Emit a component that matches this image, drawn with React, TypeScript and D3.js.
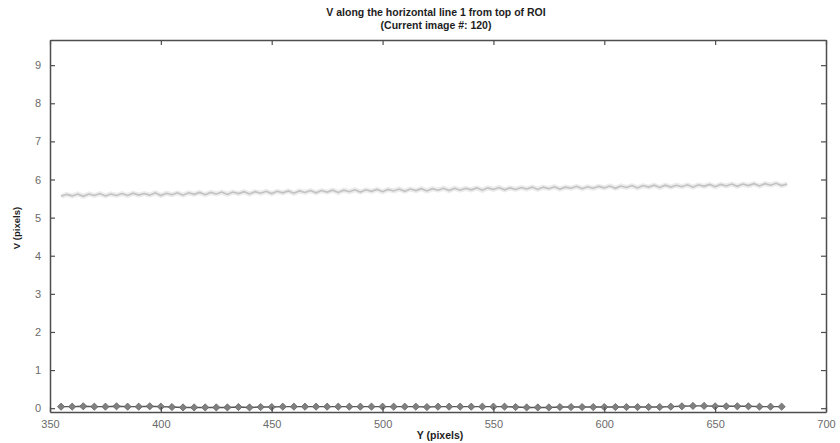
import React, { useEffect, useRef } from "react";
import * as d3 from "d3";

// V along the line (faded history trace), sampled every 2.5 px from Y=355
const vStart = 355;
const vStep = 2.5;
const vValues = [
  5.56, 5.61, 5.57, 5.62, 5.56, 5.62, 5.58, 5.63, 5.57, 5.62, 5.58, 5.63,
  5.58, 5.64, 5.59, 5.63, 5.59, 5.65, 5.58, 5.64, 5.6, 5.65, 5.59, 5.65,
  5.61, 5.66, 5.6, 5.66, 5.62, 5.67, 5.61, 5.67, 5.63, 5.68, 5.62, 5.68,
  5.64, 5.69, 5.63, 5.69, 5.65, 5.7, 5.64, 5.7, 5.66, 5.71, 5.65, 5.71,
  5.67, 5.72, 5.66, 5.72, 5.68, 5.73, 5.67, 5.73, 5.69, 5.74, 5.68, 5.74,
  5.7, 5.75, 5.69, 5.75, 5.71, 5.76, 5.7, 5.76, 5.72, 5.77, 5.71, 5.77,
  5.72, 5.77, 5.73, 5.78, 5.72, 5.78, 5.74, 5.79, 5.73, 5.78, 5.74, 5.79,
  5.75, 5.8, 5.74, 5.8, 5.76, 5.81, 5.75, 5.8, 5.77, 5.82, 5.76, 5.81,
  5.77, 5.82, 5.78, 5.83, 5.77, 5.83, 5.79, 5.84, 5.78, 5.84, 5.8, 5.85,
  5.79, 5.85, 5.8, 5.85, 5.81, 5.86, 5.8, 5.86, 5.82, 5.87, 5.81, 5.87,
  5.83, 5.88, 5.82, 5.88, 5.84, 5.89, 5.83, 5.89, 5.85, 5.9, 5.84, 5.88,
];

// current image values, one diamond every 5 px from Y=355
const dStart = 355;
const dStep = 5;
const dValues = [
  0.04, 0.04, 0.05, 0.04, 0.04, 0.05, 0.04, 0.04, 0.05, 0.04,
  0.03, 0.02, 0.02, 0.02, 0.02, 0.02, 0.03, 0.02, 0.03, 0.03,
  0.04, 0.04, 0.04, 0.04, 0.04, 0.04, 0.04, 0.04, 0.04, 0.04,
  0.04, 0.04, 0.04, 0.03, 0.04, 0.04, 0.04, 0.04, 0.04, 0.04,
  0.04, 0.03, 0.02, 0.02, 0.02, 0.03, 0.03, 0.03, 0.03, 0.03,
  0.03, 0.03, 0.03, 0.03, 0.03, 0.04, 0.05, 0.06, 0.06, 0.05,
  0.05, 0.05, 0.05, 0.04, 0.04, 0.04,
];

const xTicks = [350, 400, 450, 500, 550, 600, 650, 700];
const yTicks = [0, 1, 2, 3, 4, 5, 6, 7, 8, 9];
const titleLines = ["V along the horizontal line 1 from top of ROI", "(Current image #: 120)"];

const App = () => {
  const ref = useRef<SVGSVGElement>(null);

  useEffect(() => {
    const margin = { top: 40, right: 14, bottom: 31, left: 50 };
    const W = 840, H = 443;
    const w = W - margin.left - margin.right;
    const h = H - margin.top - margin.bottom;
    const font = "Arimo, 'Liberation Sans', Arial, sans-serif";

    const svg = d3.select(ref.current);
    svg.selectAll("*").remove();
    const g = svg.append("g").attr("transform", `translate(${margin.left},${margin.top})`);

    const x = d3.scaleLinear().domain([350, 700]).range([0, w]);
    const y = d3.scaleLinear().domain([-0.1, 9.66]).range([h, 0]);

    const vData = vValues.map((v, i) => ({ x: vStart + i * vStep, v }));
    const dData = dValues.map((v, i) => ({ x: dStart + i * dStep, v }));

    const line = d3.line<{ x: number; v: number }>()
      .x(d => x(d.x))
      .y(d => y(d.v));

    // faded trace
    g.append("path").datum(vData)
      .attr("d", line)
      .attr("fill", "none")
      .attr("stroke", "#ececec")
      .attr("stroke-width", 5);
    g.append("path").datum(vData)
      .attr("d", line)
      .attr("fill", "none")
      .attr("stroke", "#c2c2c2")
      .attr("stroke-width", 1.6);

    // current values
    g.append("path").datum(dData)
      .attr("d", line)
      .attr("fill", "none")
      .attr("stroke", "#555")
      .attr("stroke-width", 1.4);
    g.selectAll(".dia")
      .data(dData)
      .join("path")
      .attr("class", "dia")
      .attr("transform", d => `translate(${x(d.x)},${y(d.v)})`)
      .attr("d", "M0,-3.6L3.6,0L0,3.6L-3.6,0Z")
      .attr("fill", "#808080")
      .attr("stroke", "#666")
      .attr("stroke-width", 0.8);

    // axes (ticks inward, box)
    const axisColor = "#4e4e4e";
    const bottom = g.append("g").attr("transform", `translate(0,${h})`)
      .call(d3.axisBottom(x).tickValues(xTicks).tickSizeInner(-5).tickSizeOuter(0).tickPadding(8));
    const top = g.append("g")
      .call(d3.axisTop(x).tickValues(xTicks).tickSizeInner(-5).tickSizeOuter(0).tickFormat(() => ""));
    const left = g.append("g")
      .call(d3.axisLeft(y).tickValues(yTicks).tickSizeInner(-5).tickSizeOuter(0).tickPadding(9));
    const right = g.append("g").attr("transform", `translate(${w},0)`)
      .call(d3.axisRight(y).tickValues(yTicks).tickSizeInner(-5).tickSizeOuter(0).tickFormat(() => ""));

    [bottom, top, left, right].forEach(a => {
      a.select(".domain").attr("stroke", axisColor).attr("stroke-width", 1.5);
      a.selectAll(".tick line").attr("stroke", axisColor).attr("stroke-width", 1.2);
      a.selectAll(".tick text")
        .attr("fill", "#6a6a6a")
        .style("font-family", font)
        .style("font-size", "11px");
    });

    // title
    svg.append("text")
      .attr("x", margin.left + w / 2)
      .attr("text-anchor", "middle")
      .style("font-family", font)
      .style("font-size", "10.5px")
      .style("font-weight", "bold")
      .attr("fill", "#1e1e1e")
      .selectAll("tspan")
      .data(titleLines)
      .join("tspan")
      .attr("x", margin.left + w / 2 - 2)
      .attr("y", (d, i) => 16 + i * 12.5)
      .text(d => d);

    // axis labels
    svg.append("text")
      .attr("x", margin.left + w / 2 + 2)
      .attr("y", H - 4)
      .attr("text-anchor", "middle")
      .style("font-family", font)
      .style("font-size", "10.5px")
      .style("font-weight", "bold")
      .attr("fill", "#1e1e1e")
      .text("Y (pixels)");

    svg.append("text")
      .attr("transform", `translate(20,${margin.top + h / 2 + 2}) rotate(-90)`)
      .attr("text-anchor", "middle")
      .style("font-family", font)
      .style("font-size", "9.5px")
      .style("font-weight", "bold")
      .attr("fill", "#1e1e1e")
      .text("V (pixels)");
  }, []);

  return (
    <svg ref={ref} width={840} height={443}
      style={{ position: "absolute", left: 0, top: 0, background: "#fff" }} />
  );
};

export default App;
